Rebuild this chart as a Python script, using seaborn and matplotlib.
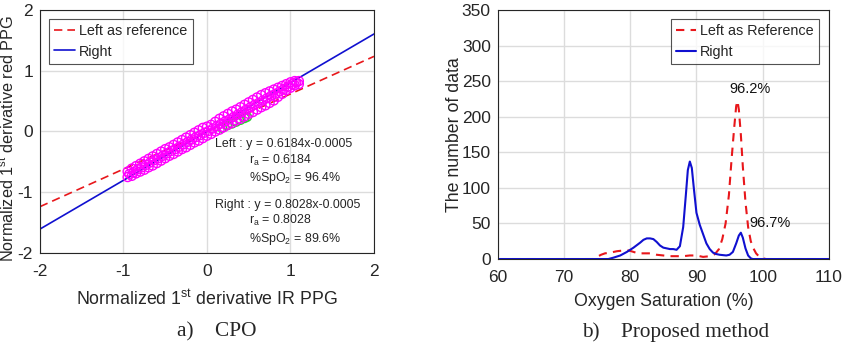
import matplotlib
matplotlib.use('Agg')
import matplotlib.pyplot as plt
import seaborn as sns
import numpy as np
import pandas as pd

# ---- data: (a) CPO scatter -------------------------------------------------
scatter_x = [-0.95, -0.90, -0.85, -0.80, -0.75, -0.70, -0.65, -0.60, -0.55, -0.50,
             -0.45, -0.40, -0.35, -0.30, -0.25, -0.20, -0.15, -0.10, -0.05, 0.00,
             0.05, 0.10, 0.15, 0.20, 0.25, 0.30, 0.35, 0.40, 0.45, 0.50,
             0.55, 0.60, 0.65, 0.70, 0.75, 0.80, 0.85, 0.90, 0.95, 1.00, 1.05, 1.10]
scatter_upper = [-0.66, -0.61, -0.57, -0.53, -0.49, -0.45, -0.41, -0.37, -0.33, -0.29,
                 -0.26, -0.22, -0.18, -0.14, -0.10, -0.06, -0.02, 0.02, 0.06, 0.08,
                 0.11, 0.16, 0.21, 0.25, 0.29, 0.33, 0.36, 0.40, 0.44, 0.48,
                 0.52, 0.56, 0.60, 0.63, 0.66, 0.69, 0.72, 0.75, 0.78, 0.81, 0.83, 0.83]
scatter_lower = [-0.75, -0.73, -0.69, -0.66, -0.63, -0.59, -0.56, -0.52, -0.48, -0.44,
                 -0.40, -0.37, -0.33, -0.29, -0.26, -0.22, -0.18, -0.15, -0.11, -0.07,
                 -0.04, 0.00, 0.03, 0.07, 0.11, 0.14, 0.18, 0.21, 0.25, 0.29,
                 0.32, 0.36, 0.40, 0.43, 0.47, 0.51, 0.57, 0.62, 0.68, 0.72, 0.76, 0.78]
mid_x = [-0.93, -0.88, -0.83, -0.78, -0.73, -0.68, -0.63, -0.58, -0.53, -0.48,
         -0.43, -0.38, -0.33, -0.28, -0.23, -0.18, -0.13, -0.08, -0.03, 0.02,
         0.07, 0.12, 0.17, 0.22, 0.27, 0.32, 0.37, 0.42, 0.47, 0.52,
         0.57, 0.62, 0.67, 0.72, 0.77, 0.82, 0.87, 0.92, 0.97, 1.02, 1.07]
mid_y = [-0.70, -0.67, -0.62, -0.59, -0.55, -0.51, -0.47, -0.44, -0.40, -0.36,
         -0.32, -0.29, -0.25, -0.21, -0.17, -0.13, -0.09, -0.06, -0.02, 0.01,
         0.05, 0.09, 0.13, 0.17, 0.20, 0.24, 0.28, 0.32, 0.36, 0.40,
         0.44, 0.47, 0.51, 0.55, 0.59, 0.62, 0.66, 0.70, 0.74, 0.78, 0.81]
green_x = [0.18, 0.24, 0.30, 0.35, 0.40, 0.45, 0.48]
green_y = [0.06, 0.10, 0.13, 0.16, 0.19, 0.22, 0.24]

fit_x = [-2, 2]
left_slope, left_icpt = 0.6184, -0.0005
right_slope, right_icpt = 0.8028, -0.0005

# ---- data: (b) SpO2 distributions ----------------------------------------
ref_x = [60, 70, 74.4, 75.0, 75.6, 76.2, 77.0, 78.0, 79.0, 79.8, 80.5, 81.2, 82.0,
         83.0, 84.0, 85.0, 86.0, 87.0, 88.0, 89.0, 90.0, 91.0, 92.0, 92.8, 93.4,
         93.9, 94.4, 94.9, 95.3, 95.7, 96.0, 96.2, 96.4, 96.7, 97.0, 97.4, 97.8,
         98.2, 98.6, 99.0, 99.5, 100.0, 100.5, 105, 110]
ref_y = [0, 0, 0, 3, 6, 8, 9, 11, 12, 12, 10, 8, 8,
         8, 6, 5, 4, 4, 4, 5, 5, 3, 4, 7, 14,
         28, 50, 90, 140, 185, 215, 222, 210, 175, 130, 80, 45,
         25, 15, 8, 3, 1, 0, 0, 0]
right_x = [60, 70, 76.7, 77.5, 78.5, 79.5, 80.5, 81.5, 82.0, 82.5, 83.0, 83.5, 84.0,
           84.5, 85.0, 85.5, 86.0, 86.5, 87.0, 87.5, 88.0, 88.4, 88.7, 89.0, 89.3,
           89.6, 90.0, 90.5, 91.0, 91.5, 92.0, 92.5, 93.0, 93.5, 94.5, 95.0, 95.5,
           96.0, 96.4, 96.7, 97.0, 97.4, 97.8, 98.2, 98.5, 105, 110]
right_y = [0, 0, 0, 2, 5, 10, 16, 23, 27, 29, 29, 28, 24,
           19, 16, 15, 14, 14, 13, 18, 45, 90, 125, 137, 128,
           100, 65, 48, 35, 22, 14, 9, 7, 6, 5, 6, 10,
           22, 33, 37, 30, 15, 5, 1, 0, 0, 0]

# ---- style -----------------------------------------------------------------
sns.set_theme(style="whitegrid")
plt.rcParams['font.family'] = ['Liberation Sans', 'DejaVu Sans']
plt.rcParams['mathtext.default'] = 'regular'
plt.rcParams['axes.unicode_minus'] = False
plt.rcParams['axes.edgecolor'] = '#262626'
plt.rcParams['grid.color'] = '#dcdcdc'
plt.rcParams['xtick.direction'] = 'in'
plt.rcParams['ytick.direction'] = 'in'

fig = plt.figure(figsize=(8.45, 3.44), dpi=100)
ax1 = fig.add_axes([0.0473, 0.2645, 0.3953, 0.7065])
ax2 = fig.add_axes([0.589, 0.247, 0.392, 0.724])

# ---- (a) CPO ---------------------------------------------------------------
left_fit = [left_slope * v + left_icpt for v in fit_x]
right_fit = [right_slope * v + right_icpt for v in fit_x]
ax1.plot(fit_x, left_fit, color='#e8171b', linestyle=(0, (5, 3)), linewidth=1.2,
         label='Left as reference', zorder=2)
ax1.plot(fit_x, right_fit, color='#1010d0', linewidth=1.2, label='Right', zorder=2)

sns.scatterplot(x=green_x, y=green_y, ax=ax1, s=40, marker='o', facecolor='none',
                edgecolor='#30d030', linewidth=1.0, zorder=3)
for xs, ys in [(scatter_x, scatter_lower), (mid_x, mid_y), (scatter_x, scatter_upper)]:
    sns.scatterplot(x=xs, y=ys, ax=ax1, s=42, marker='o', facecolor='none',
                    edgecolor='#ff00ff', linewidth=1.0, zorder=4)

ax1.set_xlim(-2, 2)
ax1.set_ylim(-2, 2)
ax1.set_xticks([-2, -1, 0, 1, 2])
ax1.set_yticks([-2, -1, 0, 1, 2])
ax1.tick_params(labelsize=12.5, length=3, colors='#262626')
ax1.tick_params(axis='x', pad=8)
ax1.tick_params(axis='y', pad=5)
ax1.set_xlabel('Normalized 1$^{st}$ derivative IR PPG', fontsize=12.8, labelpad=7)
ax1.set_ylabel('Normalized 1$^{st}$ derivative red PPG', fontsize=11.7)
ax1.yaxis.set_label_coords(-0.071, 0.47)
leg = ax1.legend(loc='upper left', fontsize=10.4, frameon=True, fancybox=False,
                 edgecolor='#262626', handlelength=1.45, handletextpad=0.3,
                 borderpad=0.35, labelspacing=0.45, borderaxespad=0,
                 bbox_to_anchor=(0.027, 0.963))
leg.get_frame().set_linewidth(0.8)

ann_fs = 8.9
ax1.text(0.10, -0.21, 'Left : y = 0.6184x-0.0005', fontsize=ann_fs, va='center', color='#262626')
ax1.text(0.50, -0.47, 'r$_a$ = 0.6184', fontsize=ann_fs, va='center', color='#262626')
ax1.text(0.50, -0.77, '%SpO$_2$ = 96.4%', fontsize=ann_fs, va='center', color='#262626')
ax1.text(0.10, -1.21, 'Right : y = 0.8028x-0.0005', fontsize=ann_fs, va='center', color='#262626')
ax1.text(0.50, -1.46, 'r$_a$ = 0.8028', fontsize=ann_fs, va='center', color='#262626')
ax1.text(0.50, -1.77, '%SpO$_2$ = 89.6%', fontsize=ann_fs, va='center', color='#262626')

# ---- (b) Proposed method ---------------------------------------------------
ref_df = pd.DataFrame({'x': ref_x, 'y': ref_y})
right_df = pd.DataFrame({'x': right_x, 'y': right_y})
sns.lineplot(data=ref_df, x='x', y='y', ax=ax2, color='#e8171b', linestyle=(0, (4, 3)),
             linewidth=1.5, label='Left as Reference')
sns.lineplot(data=right_df, x='x', y='y', ax=ax2, color='#1010d0', linewidth=1.5,
             label='Right')

ax2.set_xlim(60, 110)
ax2.set_ylim(0, 350)
ax2.set_xticks(np.arange(60, 111, 10))
ax2.set_yticks(np.arange(0, 351, 50))
ax2.tick_params(labelsize=12.5, length=3, colors='#262626')
ax2.tick_params(axis='x', pad=8)
ax2.tick_params(axis='y', pad=5)
ax2.set_xlabel('Oxygen Saturation (%)', fontsize=12.8, labelpad=6)
ax2.set_ylabel('The number of data', fontsize=12.8, labelpad=-1)
leg2 = ax2.legend(loc='upper right', fontsize=10.4, frameon=True, fancybox=False,
                  edgecolor='#262626', handlelength=1.35, handletextpad=0.3,
                  borderpad=0.35, labelspacing=0.45, borderaxespad=0,
                  bbox_to_anchor=(0.970, 0.963))
leg2.get_frame().set_linewidth(0.8)
ax2.text(98.1, 239, '96.2%', fontsize=10.5, ha='center', va='center', color='#111111')
ax2.text(101.1, 50, '96.7%', fontsize=10.5, ha='center', va='center', color='#111111')

for ax in (ax1, ax2):
    for sp in ax.spines.values():
        sp.set_linewidth(0.8)
        sp.set_color('#262626')

# ---- captions --------------------------------------------------------------
fig.text(0.257, 0.035, 'a)    CPO', fontsize=15.3, ha='center', va='center',
         family='Liberation Serif')
fig.text(0.80, 0.035, 'b)    Proposed method', fontsize=15.3, ha='center', va='center',
         family='Liberation Serif')

plt.savefig('out.png', dpi=100)
